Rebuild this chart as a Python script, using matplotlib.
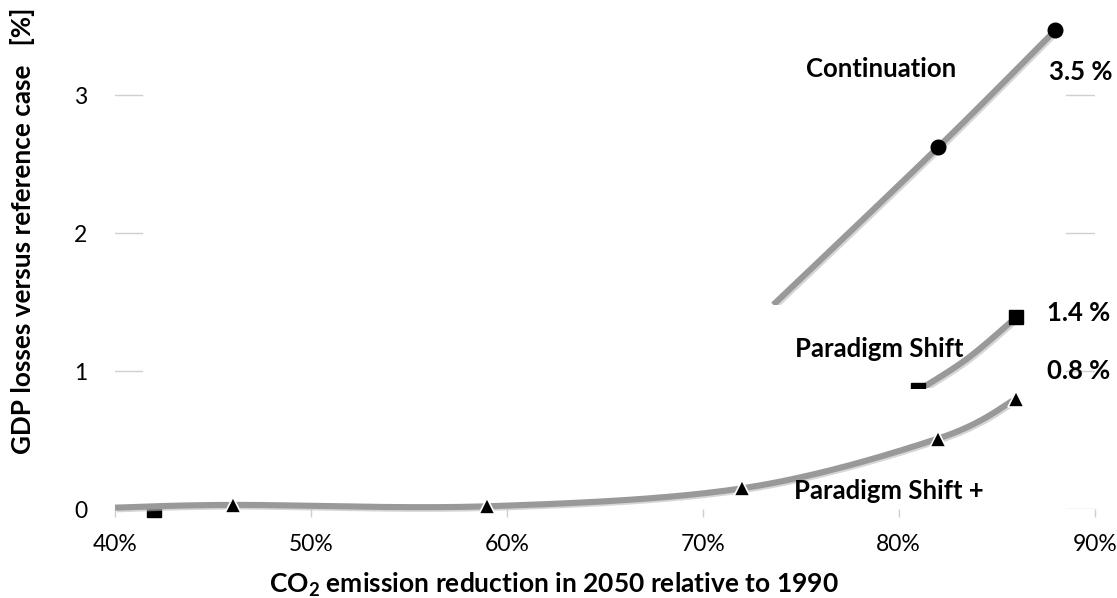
import numpy as np
import matplotlib.pyplot as plt
from matplotlib import patheffects as pe
from matplotlib.patches import Rectangle

plt.rcParams['font.family'] = ['Lato', 'DejaVu Sans']
plt.rcParams['mathtext.fontset'] = 'custom'
plt.rcParams['mathtext.rm'] = 'Lato'
plt.rcParams['mathtext.bf'] = 'Lato:bold'

# values (x: CO2 reduction in %, y: GDP loss in %)
cont_x = [73.6, 82, 88]
cont_y = [1.48, 2.62, 3.47]
ps_x = [81, 83.5, 86]
ps_y = [0.86, 1.09, 1.39]
ps_low_x = [42]
ps_low_y = [-0.005]
psp_x = [40, 46, 59, 72, 82, 86]
psp_y = [0.01, 0.03, 0.02, 0.15, 0.51, 0.80]

xticks = [40, 50, 60, 70, 80, 90]
xticklabels = ['40%', '50%', '60%', '70%', '80%', '90%']
yticks = [0, 1, 2, 3]
yticklabels = ['0', '1', '2', '3']


def smooth(x, y, ratio=138/19.6, n=40):
    # excel-like smoothed line (catmull-rom as bezier), done in screen-ish space
    x = np.asarray(x, float)
    y = np.asarray(y, float) * ratio
    px = np.r_[x[0], x, x[-1]]
    py = np.r_[y[0], y, y[-1]]
    t = np.linspace(0, 1, n)[1:]
    ox, oy = [x[0]], [y[0]]
    for i in range(1, len(px) - 2):
        c1x = px[i] + (px[i+1] - px[i-1]) / 6
        c1y = py[i] + (py[i+1] - py[i-1]) / 6
        c2x = px[i+1] - (px[i+2] - px[i]) / 6
        c2y = py[i+1] - (py[i+2] - py[i]) / 6
        bx = (1-t)**3*px[i] + 3*(1-t)**2*t*c1x + 3*(1-t)*t**2*c2x + t**3*px[i+1]
        by = (1-t)**3*py[i] + 3*(1-t)**2*t*c1y + 3*(1-t)*t**2*c2y + t**3*py[i+1]
        ox += list(bx)
        oy += list(by)
    return np.array(ox), np.array(oy) / ratio


fig = plt.figure(figsize=(11.17, 5.98), dpi=100)
ax = fig.add_axes([0.103, 0.1488, 0.877, 0.8077])
ax.set_xlim(40, 90)
ax.set_ylim(0, 3.5)

lc = '#999999'
lw = 4.4
shadow = [pe.SimpleLineShadow(offset=(1.2, -1.2), shadow_color='#bbbbbb', alpha=0.6), pe.Normal()]

# short gridline stubs like in the original
for yv in yticks:
    ax.axhline(yv, xmin=0, xmax=0.028, color='#d0d0d0', lw=1.0, zorder=0)
    ax.axhline(yv, xmin=0.971, xmax=1.0, color='#d0d0d0', lw=1.0, zorder=0)

# Continuation
cx, cy = smooth(cont_x, cont_y)
l1, = ax.plot(cx, cy, color=lc, lw=lw, solid_capstyle='butt', zorder=2, path_effects=shadow)
l1.set_clip_path(Rectangle((40, 1.478), 60, 5, transform=ax.transData))
ax.plot(cont_x[1:], cont_y[1:], 'o', color='black', ms=10.5, zorder=4, clip_on=False)

# Paradigm Shift
px_, py_ = smooth(ps_x, ps_y)
l2, = ax.plot(px_, py_, color=lc, lw=lw, solid_capstyle='butt', zorder=2, path_effects=shadow)
l2.set_clip_path(Rectangle((40, 0.877), 60, 5, transform=ax.transData))
m2, = ax.plot([ps_x[0], ps_x[-1]], [ps_y[0], ps_y[-1]], 's', color='black', ms=10, zorder=4)
m2.set_clip_path(Rectangle((40, 0.877), 60, 5, transform=ax.transData))
m3, = ax.plot(ps_low_x, ps_low_y, 's', color='black', ms=10, zorder=1)
m3.set_clip_path(Rectangle((40, -1), 60, 1, transform=ax.transData))

# Paradigm Shift +
qx, qy = smooth(psp_x, psp_y)
ax.plot(qx, qy, color=lc, lw=lw, solid_capstyle='butt', zorder=3, path_effects=shadow, clip_on=False)
ax.plot(psp_x[1:], psp_y[1:], '^', color='black', ms=12, mec='white', mew=1.2, zorder=5, clip_on=False)

# labels
tk = dict(fontsize=18.5, fontweight='bold', color='black')
ax.text(79.1, 3.19, 'Continuation', ha='center', va='center', **tk)
ax.text(89.3, 3.17, '3.5 %', ha='center', va='center', **tk)
ax.text(79.0, 1.16, 'Paradigm Shift', ha='center', va='center', **tk)
ax.text(89.2, 1.42, '1.4 %', ha='center', va='center', **tk)
ax.text(89.2, 1.00, '0.8 %', ha='center', va='center', **tk)
ax.text(79.5, 0.13, 'Paradigm Shift +', ha='center', va='center', **tk)

for s in ax.spines.values():
    s.set_visible(False)
ax.set_xticks(xticks)
ax.set_xticklabels(xticklabels, fontsize=16.5)
ax.set_yticks(yticks)
ax.set_yticklabels(yticklabels, fontsize=16.5)
ax.tick_params(axis='x', length=6, width=1, color='#d0d0d0', pad=12)
ax.tick_params(axis='y', length=0, pad=20)

ax.set_xlabel(r'CO$_\mathbf{2}$ emission reduction in 2050 relative to 1990', fontsize=19,
              fontweight='bold')
ax.xaxis.set_label_coords(0.448, -0.128)
ax.set_ylabel('GDP losses versus reference case   [%]', fontsize=18.8,
              fontweight='bold')
ax.yaxis.set_label_coords(-0.082, 0.575)

fig.savefig('out.png', dpi=100)
